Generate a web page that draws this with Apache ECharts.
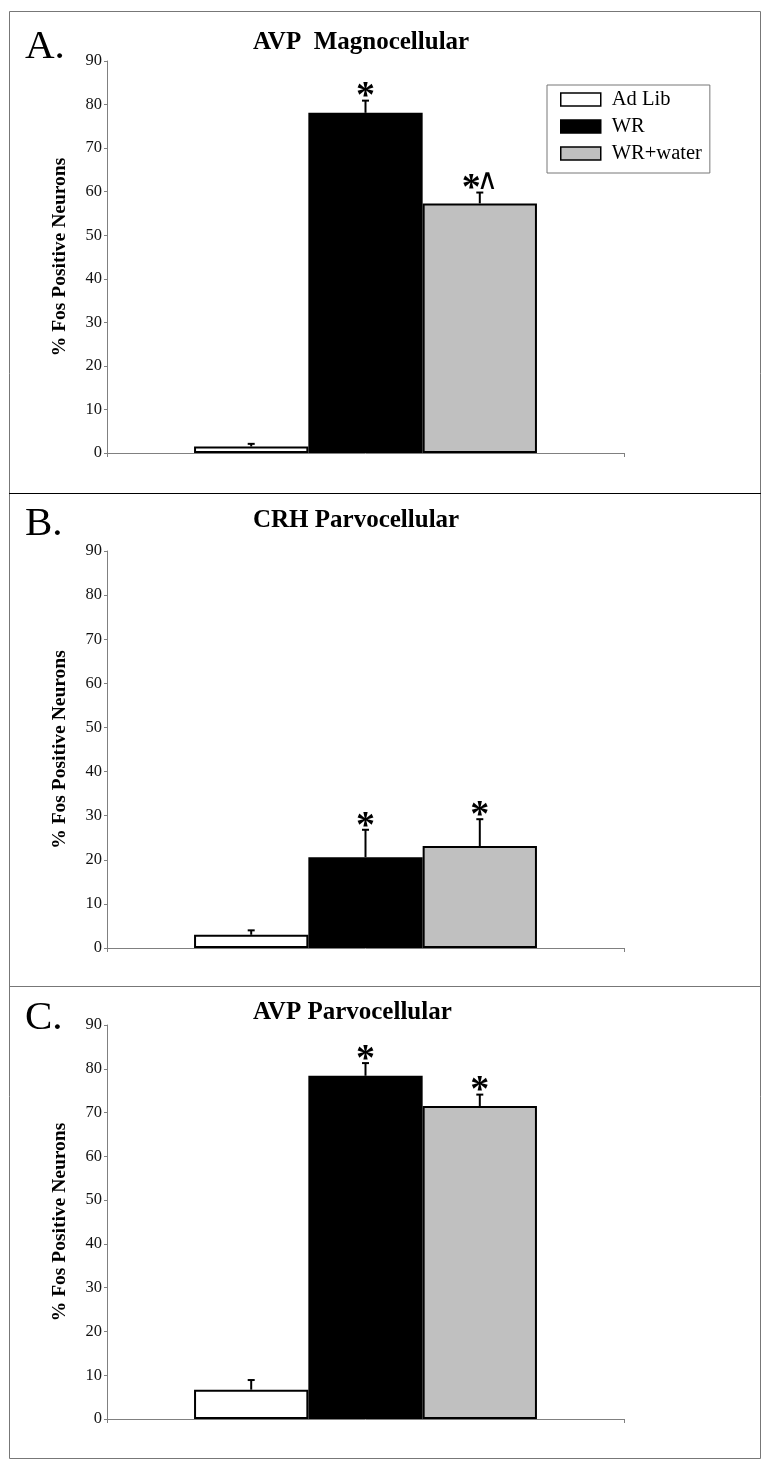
<!DOCTYPE html>
<html>
<head>
<meta charset="utf-8">
<script src="https://cdn.jsdelivr.net/npm/echarts@6/dist/echarts.min.js"></script>
<style>
html,body{margin:0;padding:0;background:#fff;}
#chart{width:770px;height:1466px;}
</style>
</head>
<body>
<div id="chart"></div>
<script>
// ---- data ----
const categories = [''];
const groups = ['Ad Lib', 'WR', 'WR+water'];
const panelLetters = ['A.', 'B.', 'C.'];
const panelTitles = ['AVP  Magnocellular', 'CRH Parvocellular', 'AVP Parvocellular'];
const yTicks = [0, 10, 20, 30, 40, 50, 60, 70, 80, 90];
// means (% Fos positive neurons)
const meansA = [1.5, 78.1, 57.3];
const meansB = [3.0, 20.6, 23.1];
const meansC = [6.7, 78.4, 71.5];
// upper end of error bars (mean + SEM)
const errTopA = [2.1, 80.9, 59.8];
const errTopB = [4.0, 26.8, 29.2];
const errTopC = [8.9, 81.3, 74.1];
// significance marks
const marksA = ['', '*', '*\u2227'];
const marksB = ['', '*', '*'];
const marksC = ['', '*', '*'];

// ---- layout / style ----
const FONT = 'Liberation Serif';
const barColors = ['#ffffff', '#000000', '#c0c0c0'];
const BAR_W = 114.3;
const grids = [
  {left: 107, top: 61, width: 517, height: 392},
  {left: 107, top: 551, width: 517, height: 397},
  {left: 107, top: 1025, width: 517, height: 394}
];
const titleY = [43, 521, 1013];
const letterY = [47, 524, 1018];

const means = [meansA, meansB, meansC];
const tops = [errTopA, errTopB, errTopC];
const marks = [marksA, marksB, marksC];

const chart = echarts.init(document.getElementById('chart'), null, {renderer: 'canvas'});

const xAxes = [], yAxes = [], series = [];
grids.forEach((g, p) => {
  xAxes.push({
    type: 'category', gridIndex: p, data: categories,
    axisLine: {lineStyle: {color: '#808080', width: 1}},
    axisTick: {show: true, length: 4, lineStyle: {color: '#808080'}},
    axisLabel: {show: false}
  });
  yAxes.push({
    type: 'value', gridIndex: p, min: yTicks[0], max: yTicks[yTicks.length - 1], interval: 10,
    name: '% Fos Positive Neurons', nameLocation: 'middle', nameGap: 37,
    nameTextStyle: {fontFamily: FONT, fontWeight: 'bold', fontSize: 19.5, color: '#000'},
    axisLine: {show: true, lineStyle: {color: '#808080', width: 1}},
    axisTick: {show: true, length: 3, lineStyle: {color: '#808080'}},
    axisLabel: {fontFamily: FONT, fontSize: 16.5, color: '#111', margin: 5},
    splitLine: {show: false}
  });
  groups.forEach((name, i) => {
    series.push({
      type: 'bar', name: name, xAxisIndex: p, yAxisIndex: p,
      data: [means[p][i]],
      barWidth: BAR_W, barGap: '0%',
      itemStyle: {color: barColors[i], borderColor: '#000', borderWidth: 2},
      emphasis: {disabled: true},
      z: 2
    });
  });
  const errData = groups.map((name, i) => [0, means[p][i], tops[p][i], i]);
  series.push({
    type: 'custom', xAxisIndex: p, yAxisIndex: p, z: 5,
    encode: {x: 0, y: [1, 2]},
    data: errData,
    renderItem: function (params, api) {
      const idx = api.value(3);
      const base = api.coord([0, api.value(1)]);
      const top = api.coord([0, api.value(2)]);
      const x = base[0] + (idx - 1) * BAR_W;
      const children = [
        {type: 'line', shape: {x1: x, y1: base[1], x2: x, y2: top[1]}, style: {stroke: '#000', lineWidth: 2}},
        {type: 'line', shape: {x1: x - 3.5, y1: top[1], x2: x + 3.5, y2: top[1]}, style: {stroke: '#000', lineWidth: 2}}
      ];
      const m = marks[p][params.dataIndex];
      if (m) {
        const chars = m.split('');
        chars.forEach((c, k) => {
          const cx = chars.length > 1 ? x + (k === 0 ? -8.5 : 7.5) : x;
          if (c === '*') {
            children.push({type: 'text', style: {text: c, x: cx, y: top[1] - 3, align: 'center', verticalAlign: 'middle',
              font: 'bold 38px "' + FONT + '"', fill: '#000'}});
          } else {
            children.push({type: 'text', style: {text: c, x: cx, y: top[1] - 11, align: 'center', verticalAlign: 'middle',
              font: '29px "DejaVu Sans"', fill: '#000'}});
          }
        });
      }
      return {type: 'group', children: children};
    }
  });
});

const graphic = [
  {type: 'rect', shape: {x: 9.5, y: 11.5, width: 751, height: 1447}, style: {fill: 'none', stroke: '#777', lineWidth: 1}, silent: true},
  {type: 'line', shape: {x1: 9, y1: 493.5, x2: 761, y2: 493.5}, style: {stroke: '#000', lineWidth: 1.2}, silent: true},
  {type: 'line', shape: {x1: 9, y1: 986.5, x2: 761, y2: 986.5}, style: {stroke: '#777', lineWidth: 1.2}, silent: true}
];
panelLetters.forEach((t, p) => {
  graphic.push({type: 'text', left: 25, top: letterY[p] - 20, style: {text: t, font: '41px "' + FONT + '"', fill: '#000'}, silent: true});
  graphic.push({type: 'text', left: 253, top: titleY[p] - 13, style: {text: panelTitles[p], font: 'bold 25px "' + FONT + '"', fill: '#000'}, silent: true});
});

chart.setOption({
  animation: false,
  backgroundColor: '#fff',
  grid: grids,
  xAxis: xAxes,
  yAxis: yAxes,
  legend: {
    data: groups, left: 547, top: 85, orient: 'vertical',
    icon: 'rect', itemWidth: 40, itemHeight: 13, itemGap: 6,
    padding: [4, 8, 9, 13],
    borderColor: '#777', borderWidth: 1,
    selectedMode: false,
    itemStyle: {borderColor: '#000', borderWidth: 1.5},
    textStyle: {fontFamily: FONT, fontSize: 20.5, color: '#000', padding: [0, 0, 0, 6]}
  },
  graphic: graphic,
  series: series
});
</script>
</body>
</html>
